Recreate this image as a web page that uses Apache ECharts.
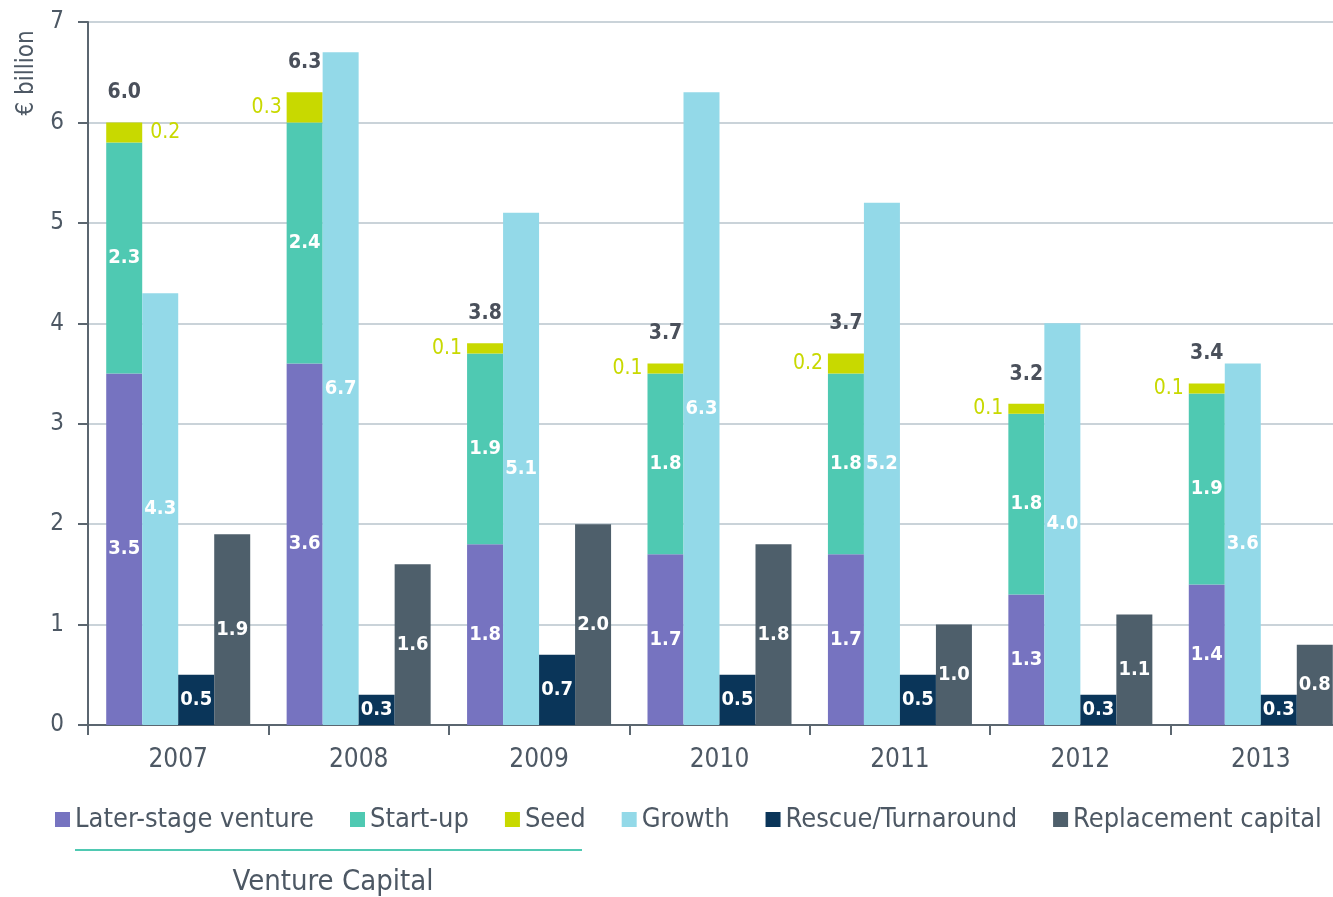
<!DOCTYPE html>
<html>
<head>
<meta charset="utf-8">
<title>Private equity investments by stage</title>
<script src="https://cdn.jsdelivr.net/npm/echarts@6/dist/echarts.min.js"></script>
<style>
  html, body { margin: 0; padding: 0; background: #ffffff; }
  #chart { width: 1333px; height: 897px; }
</style>
</head>
<body>
<div id="chart"></div>
<script>
// Investment amounts per year, € billion
var years = ['2007', '2008', '2009', '2010', '2011', '2012', '2013'];
var laterStage = [3.5, 3.6, 1.8, 1.7, 1.7, 1.3, 1.4];
var startUp = [2.3, 2.4, 1.9, 1.8, 1.8, 1.8, 1.9];
var seed = [0.2, 0.3, 0.1, 0.1, 0.2, 0.1, 0.1];
var ventureTotals = [6.0, 6.3, 3.8, 3.7, 3.7, 3.2, 3.4];
var growth = [4.3, 6.7, 5.1, 6.3, 5.2, 4.0, 3.6];
var rescue = [0.5, 0.3, 0.7, 0.5, 0.5, 0.3, 0.3];
var replacement = [1.9, 1.6, 2.0, 1.8, 1.0, 1.1, 0.8];
var yTicks = [0, 1, 2, 3, 4, 5, 6, 7];

var FONT = '"DejaVu Sans Condensed", "Liberation Sans Narrow", "DejaVu Sans", sans-serif';
var TEXT = '#4d5864';
var AXIS = '#5b6670';

var colors = {
  later: '#7673c0',
  start: '#4fc9b2',
  seed: '#c8d900',
  growth: '#93d9e8',
  rescue: '#0a3559',
  replacement: '#4e5f6b'
};

function insideLabel() {
  return {
    show: true,
    position: 'inside',
    color: '#ffffff',
    fontFamily: FONT,
    fontWeight: 'bold',
    fontSize: 20,
    textBorderWidth: 0,
    formatter: function (p) { return p.value.toFixed(1); }
  };
}

var BAR_W = 36;

var chart = echarts.init(document.getElementById('chart'), null, { renderer: 'canvas' });

chart.setOption({
  animation: false,
  backgroundColor: '#ffffff',
  textStyle: { fontFamily: FONT },
  // the last group runs past the right edge of the canvas
  grid: { left: 88, top: 22, width: 1263, bottom: 172, containLabel: false, outerBoundsMode: 'none' },
  legend: {
    data: ['Later-stage venture', 'Start-up', 'Seed', 'Growth', 'Rescue/Turnaround', 'Replacement capital'],
    left: 50,
    top: 801,
    icon: 'rect',
    itemWidth: 15,
    itemHeight: 15,
    itemGap: 36,
    textStyle: { fontFamily: FONT, fontSize: 27, color: TEXT }
  },
  xAxis: {
    type: 'category',
    data: years,
    axisLine: { lineStyle: { color: AXIS, width: 2 } },
    axisTick: { show: true, length: 10, lineStyle: { color: AXIS, width: 2 } },
    axisLabel: { fontFamily: FONT, fontSize: 26, color: TEXT, margin: 22 },
    splitLine: { show: false }
  },
  yAxis: {
    type: 'value',
    min: yTicks[0],
    max: yTicks[yTicks.length - 1],
    interval: 1,
    axisLine: { show: true, lineStyle: { color: AXIS, width: 2 } },
    axisTick: { show: true, length: 10, lineStyle: { color: AXIS, width: 2 } },
    axisLabel: { fontFamily: FONT, fontSize: 24, color: TEXT, margin: 24 },
    splitLine: { show: true, lineStyle: { color: '#b9c4cc', width: 1.5 } }
  },
  graphic: [
    {
      type: 'text',
      x: 27, y: 73,
      rotation: Math.PI / 2,
      style: { text: '€ billion', fontFamily: FONT, fontSize: 24, fill: TEXT, textAlign: 'center', textVerticalAlign: 'middle' }
    },
    {
      type: 'line',
      shape: { x1: 75, y1: 850, x2: 582, y2: 850 },
      style: { stroke: colors.start, lineWidth: 2 }
    },
    {
      type: 'text',
      x: 333, y: 882,
      style: { text: 'Venture Capital', fontFamily: FONT, fontSize: 29, fill: TEXT, textAlign: 'center', textVerticalAlign: 'middle' }
    }
  ],
  series: [
    {
      name: 'Later-stage venture', type: 'bar', stack: 'vc', barWidth: BAR_W, barGap: '0%',
      itemStyle: { color: colors.later }, label: insideLabel(), data: laterStage
    },
    {
      name: 'Start-up', type: 'bar', stack: 'vc', barWidth: BAR_W, barGap: '0%',
      itemStyle: { color: colors.start }, label: insideLabel(), data: startUp
    },
    {
      name: 'Seed', type: 'bar', stack: 'vc', barWidth: BAR_W, barGap: '0%',
      itemStyle: { color: colors.seed },
      label: {
        show: true, color: colors.seed, fontFamily: FONT, fontSize: 21, textBorderWidth: 0,
        formatter: function (p) { return p.value.toFixed(1); }
      },
      data: seed.map(function (v, i) {
        // the first year's seed label sits beside the shorter growth bar
        return { value: v, label: { position: i === 0 ? 'right' : 'left', distance: i === 0 ? 8 : 5 } };
      })
    },
    {
      name: 'Venture total', type: 'bar', stack: 'vc', barWidth: BAR_W, barGap: '0%',
      itemStyle: { color: 'rgba(0,0,0,0)' },
      label: {
        show: true, position: 'top', distance: 19, color: '#4a505b', fontFamily: FONT,
        fontWeight: 'bold', fontSize: 21, textBorderWidth: 0,
        formatter: function (p) { return ventureTotals[p.dataIndex].toFixed(1); }
      },
      data: ventureTotals.map(function () { return 0; })
    },
    {
      name: 'Growth', type: 'bar', barWidth: BAR_W, barGap: '0%',
      itemStyle: { color: colors.growth }, label: insideLabel(), data: growth
    },
    {
      name: 'Rescue/Turnaround', type: 'bar', barWidth: BAR_W, barGap: '0%',
      itemStyle: { color: colors.rescue }, label: insideLabel(), data: rescue
    },
    {
      name: 'Replacement capital', type: 'bar', barWidth: BAR_W, barGap: '0%',
      itemStyle: { color: colors.replacement }, label: insideLabel(), data: replacement
    }
  ]
});
</script>
</body>
</html>
